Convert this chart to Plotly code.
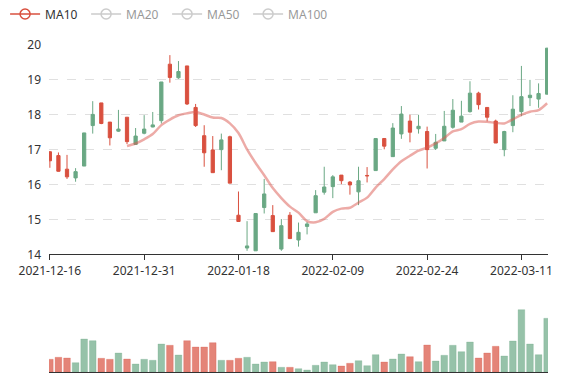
import plotly.graph_objects as go
import pandas as pd

dates = [
    "2021-12-16", "2021-12-17", "2021-12-20", "2021-12-21", "2021-12-22", "2021-12-23",
    "2021-12-24", "2021-12-27", "2021-12-28", "2021-12-29", "2021-12-30", "2021-12-31",
    "2022-01-04", "2022-01-05", "2022-01-06", "2022-01-07", "2022-01-10", "2022-01-11",
    "2022-01-12", "2022-01-13", "2022-01-14", "2022-01-17", "2022-01-18", "2022-01-19",
    "2022-01-20", "2022-01-21", "2022-01-24", "2022-01-25", "2022-01-26", "2022-01-27",
    "2022-01-28", "2022-02-07", "2022-02-08", "2022-02-09", "2022-02-10", "2022-02-11",
    "2022-02-14", "2022-02-15", "2022-02-16", "2022-02-17", "2022-02-18", "2022-02-21",
    "2022-02-22", "2022-02-23", "2022-02-24", "2022-02-25", "2022-02-28", "2022-03-01",
    "2022-03-02", "2022-03-03", "2022-03-04", "2022-03-07", "2022-03-08", "2022-03-09",
    "2022-03-10", "2022-03-11", "2022-03-14", "2022-03-15", "2022-03-16",
]

open_ = [16.94, 16.83, 16.44, 16.19, 16.53, 17.69, 18.34, 17.79, 17.53, 17.93,
         17.15, 17.47, 17.65, 17.83, 19.45, 19.06, 19.40, 18.21, 17.40, 16.99,
         17.00, 17.37, 15.12, 14.18, 14.10, 15.34, 15.11, 14.15, 15.12, 14.41,
         14.80, 15.19, 15.78, 15.94, 16.27, 16.07, 15.79, 16.26, 16.40, 17.32,
         16.80, 17.45, 17.82, 17.60, 17.52, 17.04, 17.25, 17.64, 17.79, 18.09,
         18.62, 18.21, 17.82, 17.00, 17.69, 18.09, 18.49, 18.45, 18.59]

close = [16.68, 16.38, 16.22, 16.37, 17.48, 18.01, 17.75, 17.34, 17.59, 17.23,
         17.39, 17.59, 17.71, 18.94, 19.07, 19.24, 18.31, 17.69, 16.91, 16.34,
         17.28, 16.04, 14.94, 14.24, 15.17, 15.73, 14.65, 14.82, 14.45, 14.63,
         14.87, 15.68, 15.93, 16.22, 16.11, 15.99, 16.11, 16.25, 17.32, 17.10,
         17.62, 18.02, 17.50, 17.67, 17.00, 17.21, 17.67, 18.13, 17.96, 18.62,
         18.29, 17.93, 17.19, 17.52, 18.16, 18.52, 18.56, 18.61, 19.91]

high = [16.95, 16.92, 16.85, 16.47, 17.48, 18.39, 18.34, 17.79, 18.14, 17.93,
        17.62, 17.99, 18.08, 18.94, 19.71, 19.54, 19.40, 18.31, 17.70, 17.39,
        17.46, 17.40, 15.80, 14.95, 15.17, 16.16, 15.41, 15.01, 15.21, 14.91,
        14.93, 15.84, 16.51, 16.27, 16.27, 16.10, 16.51, 16.50, 17.32, 17.32,
        17.76, 18.25, 18.00, 18.00, 17.66, 17.45, 18.11, 18.45, 18.40, 18.96,
        18.66, 18.21, 17.86, 17.54, 18.56, 19.40, 19.00, 18.90, 19.91]

low = [16.48, 16.37, 16.16, 16.08, 16.53, 17.46, 17.73, 17.12, 17.51, 17.16,
       17.15, 17.44, 17.64, 17.75, 18.92, 19.03, 18.28, 17.65, 16.51, 16.34,
       16.41, 16.04, 14.94, 14.10, 14.10, 15.17, 14.65, 14.10, 14.45, 14.22,
       14.57, 15.19, 15.71, 15.61, 16.01, 15.71, 15.41, 16.06, 16.40, 17.01,
       16.80, 17.31, 17.21, 17.46, 16.46, 16.99, 17.25, 17.60, 17.79, 18.06,
       18.15, 17.81, 17.19, 16.81, 17.50, 17.96, 18.25, 18.20, 18.59]

volume = [127, 147, 140, 93, 330, 313, 137, 127, 190, 130,
          80, 127, 117, 280, 267, 170, 313, 250, 250, 293,
          117, 117, 137, 147, 80, 100, 103, 47, 47, 33,
          20, 67, 100, 73, 60, 87, 113, 63, 173, 100,
          130, 180, 153, 103, 270, 110, 167, 267, 203, 300,
          140, 190, 257, 160, 310, 623, 280, 173, 537]

ma_names = ["MA10", "MA20", "MA50", "MA100"]
ma_windows = [10, 20, 50, 100]
tick_dates = dates[::11]

UP = "#6aa884"
DOWN = "#d9503f"

closes = pd.Series(close)

fig = go.Figure()

fig.add_trace(go.Candlestick(
    x=dates, open=open_, high=high, low=low, close=close,
    increasing=dict(line=dict(color=UP, width=1), fillcolor=UP),
    decreasing=dict(line=dict(color=DOWN, width=1), fillcolor=DOWN),
    whiskerwidth=0, showlegend=False, name="K",
    xaxis="x", yaxis="y",
))

# MA10 line (visible) + legend entry
ma10 = closes.rolling(10).mean()
fig.add_trace(go.Scatter(
    x=dates, y=ma10, mode="lines",
    line=dict(color="#dc5a52", width=2.5, shape="spline", smoothing=0.8),
    opacity=0.5, showlegend=False, name="MA10",
    xaxis="x", yaxis="y",
))
fig.add_trace(go.Scatter(
    x=[None], y=[None], mode="lines+markers", name="MA10",
    line=dict(color=DOWN, width=1.5),
    marker=dict(symbol="circle-open", size=10, color=DOWN, line=dict(width=1.5)),
    xaxis="x", yaxis="y",
))
for nm, w in zip(ma_names[1:], ma_windows[1:]):
    fig.add_trace(go.Scatter(
        x=dates, y=closes.rolling(w).mean(), mode="lines+markers", name=nm,
        visible="legendonly",
        line=dict(color="#9a9a9a", width=1.5, shape="spline"),
        marker=dict(symbol="circle-open", size=10, color="#9a9a9a", line=dict(width=1.5)),
        xaxis="x", yaxis="y",
    ))

vol_colors = ["rgba(217,80,63,0.7)" if (o - c) > 0.02 else "rgba(106,168,132,0.7)"
              for o, c in zip(open_, close)]
vol_lines = ["rgba(217,80,63,0.25)" if (o - c) > 0.02 else "rgba(106,168,132,0.25)"
             for o, c in zip(open_, close)]
fig.add_trace(go.Bar(
    x=dates, y=volume, marker=dict(color=vol_colors, line=dict(color=vol_lines, width=1)),
    showlegend=False, name="Volume", xaxis="x2", yaxis="y2",
))

# the page body adds an 8px offset; the figure is sized to fill the rest of the window
H = 327.0
FONT = "Noto Sans, Open Sans, sans-serif"
fig.update_layout(
    width=569, height=372,
    margin=dict(l=41, r=29, t=37, b=8, autoexpand=False),
    paper_bgcolor="white", plot_bgcolor="white",
    font=dict(family=FONT, size=12, color="#333"),
    boxgap=0.46, bargap=0.22,
    showlegend=True,
    legend=dict(orientation="h", x=-0.088, xanchor="left", y=(364 - 6) / H, yanchor="middle",
                font=dict(size=12, color="#333"), entrywidth=36, entrywidthmode="pixels",
                itemwidth=30, tracegroupgap=0, bgcolor="rgba(0,0,0,0)",
                itemclick=False, itemdoubleclick=False),
    xaxis=dict(type="category", categoryorder="array", categoryarray=dates,
               range=[-0.1, len(dates) - 0.9], domain=[0, 1], anchor="y",
               rangeslider=dict(visible=False),
               showline=True, linecolor="#333", linewidth=1,
               ticks="outside", ticklen=5, tickcolor="#333",
               tickvals=tick_dates, ticktext=tick_dates,
               tickfont=dict(size=12, color="#333"),
               showgrid=False, zeroline=False),
    yaxis=dict(domain=[(364 - 246.3) / H, 1], range=[14, 20], dtick=1,
               showgrid=True, gridcolor="#e0e0e0", griddash="dash", gridwidth=1,
               showline=False, zeroline=False, ticks="", ticklabelstandoff=7,
               tickfont=dict(size=12, color="#333"), anchor="x"),
    xaxis2=dict(type="category", categoryorder="array", categoryarray=dates,
                range=[-0.1, len(dates) - 0.9], domain=[0, 1], anchor="y2",
                showline=True, linecolor="#333", linewidth=1, ticks="",
                showticklabels=False, showgrid=False, zeroline=False),
    yaxis2=dict(domain=[0, 72 / H], range=[0, 720], showgrid=False, showline=False,
                showticklabels=False, zeroline=False, ticks="", anchor="x2"),
)

fig.write_html("out.html")
